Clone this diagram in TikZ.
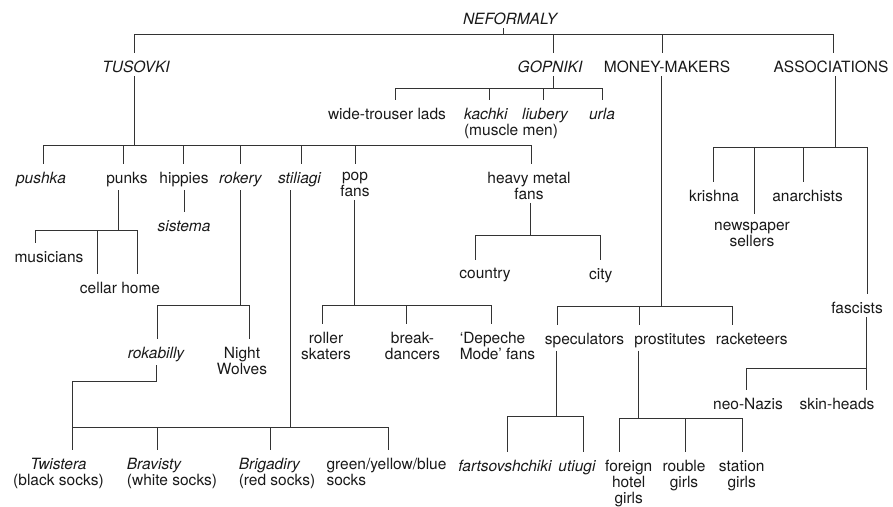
\documentclass[tikz,border=0pt]{standalone}
\usepackage{fontspec}
\setmainfont{TeX Gyre Heros}
\begin{document}
\begin{tikzpicture}[
    x=1pt, y=-1pt,
    grp/.style={anchor=north, inner xsep=1pt, inner ysep=3pt, align=center, text=black!90, font=\fontsize{15.5}{16}\selectfont},
    term/.style={grp, font=\fontsize{15.5}{16}\selectfont\itshape},
    link/.style={draw=black!80, line width=1pt},
    drop/.style={link, shorten >=5pt}
]
\useasboundingbox (0,0) rectangle (893,506);

% Top levels
\node[term] (nef) at (510,10) {NEFORMALY};
\node[term] (tus) at (136,58) {TUSOVKI};
\node[term] (gop) at (550,58) {GOPNIKI};
\node[grp] (money) at (667,58) {MONEY-MAKERS};
\node[grp] (assoc) at (831,58) {ASSOCIATIONS};

% Gopniki
\node[grp] (wide) at (387,105) {wide-trouser lads};
\node[grp, align=left] (kachki) at (511,105) {\textit{kachki}\\(muscle men)};
\node[term] (liubery) at (545,105) {liubery};
\node[term] (urla) at (602,105) {urla};

% Tusovki
\node[term] (pushka) at (41,169) {pushka};
\node[grp] (punks) at (127,169) {punks};
\node[grp] (hippies) at (184,169) {hippies};
\node[term] (rokery) at (240.5,169) {rokery};
\node[term] (stiliagi) at (299.5,169) {stiliagi};
\node[grp] (pop) at (355,169) {pop\\fans};
\node[grp] (heavy) at (529,169) {heavy metal\\fans};

\node[grp] (musicians) at (49,248) {musicians};
\node[grp] (cellar) at (120,279) {cellar home};
\node[term] (sistema) at (184,217) {sistema};

\node[term] (rokab) at (156,344) {rokabilly};
\node[grp] (wolves) at (242,344) {Night\\Wolves};

\node[grp] (roller) at (326,329) {roller\\skaters};
\node[grp] (break) at (412.5,329) {break-\\dancers};
\node[grp, align=left] (depeche) at (497.5,329) {`Depeche\\Mode' fans};

\node[grp] (country) at (485,265) {country};
\node[grp] (city) at (600.7,265) {city};

\node[grp] (twist) at (58.5,455) {\textit{Twistera}\\(black socks)};
\node[grp, align=left] (brav) at (172,455) {\textit{Bravisty}\\(white socks)};
\node[grp, align=left] (brig) at (277,455) {\textit{Brigadiry}\\(red socks)};
\node[grp, align=left] (green) at (386.5,455) {green/yellow/blue\\socks};

% Money-makers
\node[grp] (spec) at (584.5,330) {speculators};
\node[grp] (prost) at (670,330) {prostitutes};
\node[grp] (rack) at (751.7,330) {racketeers};
\node[term] (fart) at (505,457) {fartsovshchiki};
\node[term] (utiugi) at (577,457) {utiugi};
\node[grp] (foreign) at (628.7,457) {foreign\\hotel\\girls};
\node[grp] (rouble) at (684,457) {rouble\\girls};
\node[grp] (station) at (741.7,457) {station\\girls};

% Associations
\node[grp] (krishna) at (714,187) {krishna};
\node[grp] (news) at (752,219) {newspaper\\sellers};
\node[grp] (anarch) at (807.5,187) {anarchists};
\node[grp] (fasc) at (857,299) {fascists};
\node[grp] (neo) at (748,395) {neo-Nazis};
\node[grp] (skin) at (837,395) {skin-heads};

% Junctions
\coordinate (b-nef) at (503,34);
\coordinate (b-gop) at (553,88);
\coordinate (b-tus) at (134,145);
\coordinate (b-pun) at (118,230);
\coordinate (b-rok) at (240.7,305);
\coordinate (j-rok) at (72.5,381);
\coordinate (b-sti) at (290,427);
\coordinate (b-pop) at (354,305);
\coordinate (b-hm) at (530,235);
\coordinate (b-mm) at (661.7,306.7);
\coordinate (b-spec) at (556.7,416);
\coordinate (b-prost) at (638.3,418);
\coordinate (b-as) at (835,147);
\coordinate (b-fas) at (866,368);

% Lines
\draw[link] (nef.south -| b-nef) -- (b-nef);
\draw[drop] (b-nef) -| ([xshift=-2pt]tus.north);
\draw[drop] (b-nef) -| ([xshift=3pt]gop.north);
\draw[drop] (b-nef) -| ([xshift=-5pt]money.north);
\draw[drop] (b-nef) -| ([xshift=2pt]assoc.north);

\draw[link] (gop.south -| b-gop) -- (b-gop);
\draw[drop] (b-gop) -| ([xshift=8pt]wide.north);
\draw[drop] (b-gop) -| ([xshift=-22pt]kachki.north);
\draw[drop] (b-gop) -| ([xshift=-2pt]liubery.north);
\draw[drop] (b-gop) -| (urla.north);

\draw[link] (tus.south -| b-tus) -- (b-tus);
\draw[drop] (b-tus) -| ([xshift=2pt]pushka.north);
\draw[drop] (b-tus) -| ([xshift=-4pt]punks.north);
\draw[drop] (b-tus) -| ([xshift=-1pt]hippies.north);
\draw[drop] (b-tus) -| (rokery.north);
\draw[drop] (b-tus) -| ([xshift=2pt]stiliagi.north);
\draw[drop] (b-tus) -| (pop.north);
\draw[drop] (b-tus) -| ([xshift=2pt]heavy.north);

\draw[link] (punks.south -| b-pun) -- (b-pun);
\draw[drop] (b-pun) -| ([xshift=-14pt]musicians.north);
\draw[drop] (b-pun) -| ([xshift=-23pt]cellar.north);
\draw[drop] (b-pun) -| ([xshift=17pt]cellar.north);

\draw[drop] (hippies.south) -- (hippies.south |- sistema.north);

\draw[link] (rokery.south -| b-rok) -- (b-rok);
\draw[drop] (b-rok) -| ([xshift=1pt]rokab.north);
\draw[drop] (b-rok) -| ([xshift=7pt]wolves.north);
\draw[drop] (rokab.south) |- (j-rok) -- ([xshift=14pt]twist.north);

\draw[link] (stiliagi.south -| b-sti) -- (b-sti);
\draw[drop] (b-sti) -| ([xshift=14pt]twist.north);
\draw[drop] (b-sti) -| ([xshift=-15pt]brav.north);
\draw[drop] (b-sti) -| ([xshift=-7pt]brig.north);
\draw[drop] (b-sti) -| ([xshift=1.5pt]green.north);

\draw[link] (pop.south -| b-pop) -- (b-pop);
\draw[drop] (b-pop) -| ([xshift=-4pt]roller.north);
\draw[drop] (b-pop) -| ([xshift=-6pt]break.north);
\draw[drop] (b-pop) -| ([xshift=-6pt]depeche.north);

\draw[link] (heavy.south -| b-hm) -- (b-hm);
\draw[drop] (b-hm) -| ([xshift=-10pt]country.north);
\draw[drop] (b-hm) -| (city.north);

\draw[link] (money.south -| b-mm) -- (b-mm);
\draw[drop] (b-mm) -| ([xshift=-27.5pt]spec.north);
\draw[drop] (b-mm) -| ([xshift=-31pt]prost.north);
\draw[drop] (b-mm) -| ([xshift=-19pt]rack.north);

\draw[link] (spec.south -| b-spec) -- (b-spec);
\draw[drop] (b-spec) -| ([xshift=2pt]fart.north);
\draw[drop] (b-spec) -| ([xshift=6pt]utiugi.north);

\draw[link] (prost.south -| b-prost) -- (b-prost);
\draw[drop] (b-prost) -| ([xshift=-9pt]foreign.north);
\draw[drop] (b-prost) -| ([xshift=1pt]rouble.north);
\draw[drop] (b-prost) -| ([xshift=1pt]station.north);

\draw[link] (assoc.south -| b-as) -- (b-as);
\draw[drop] (b-as) -| ([xshift=-1pt]krishna.north);
\draw[drop] (b-as) -| ([xshift=2pt]news.north);
\draw[drop] (b-as) -| ([xshift=-4pt]anarch.north);
\draw[drop] (b-as) -| ([xshift=10pt]fasc.north);

\draw[link] (fasc.south -| b-fas) -- (b-fas);
\draw[drop] (b-fas) -| ([xshift=-2pt]neo.north);
\draw[drop] (b-fas) -| ([xshift=29pt]skin.north);

\end{tikzpicture}
\end{document}
